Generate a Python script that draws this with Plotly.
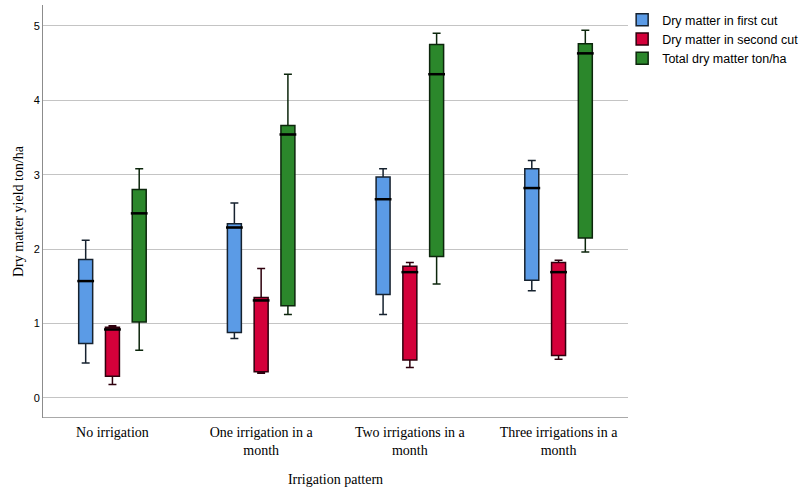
import plotly.graph_objects as go

categories = ["No irrigation", "One irrigation in a<br>month", "Two irrigations in a<br>month", "Three irrigations in a<br>month"]
series_names = ["Dry matter in first cut", "Dry matter in second cut", "Total dry matter ton/ha"]

first_lower = [0.47, 0.80, 1.12, 1.44]
first_q1 = [0.73, 0.88, 1.39, 1.58]
first_median = [1.57, 2.29, 2.67, 2.82]
first_q3 = [1.86, 2.34, 2.97, 3.08]
first_upper = [2.12, 2.62, 3.08, 3.19]

second_lower = [0.18, 0.33, 0.41, 0.52]
second_q1 = [0.29, 0.35, 0.51, 0.57]
second_median = [0.92, 1.31, 1.69, 1.69]
second_q3 = [0.95, 1.35, 1.77, 1.82]
second_upper = [0.97, 1.74, 1.82, 1.85]

total_lower = [0.64, 1.12, 1.53, 1.96]
total_q1 = [1.02, 1.24, 1.90, 2.15]
total_median = [2.48, 3.54, 4.35, 4.63]
total_q3 = [2.80, 3.66, 4.75, 4.76]
total_upper = [3.08, 4.35, 4.90, 4.94]

fills = ["#5b9be6", "#d4003a", "#2b872b"]
edges = ["#16222f", "#2e000d", "#0c260c"]
offsets = [-0.18, 0.0, 0.18]
box_w = 0.094

stats = [
    (first_lower, first_q1, first_median, first_q3, first_upper),
    (second_lower, second_q1, second_median, second_q3, second_upper),
    (total_lower, total_q1, total_median, total_q3, total_upper),
]

fig = go.Figure()
for i, (lo, q1, med, q3, hi) in enumerate(stats):
    xs = [k + offsets[i] for k in range(len(categories))]
    fig.add_trace(go.Box(
        x=xs, lowerfence=lo, q1=q1, median=med, q3=q3, upperfence=hi,
        name=series_names[i], width=box_w, whiskerwidth=0.57,
        fillcolor=fills[i], line=dict(color=edges[i], width=1.5),
        boxpoints=False, showlegend=True,
    ))
for i, (lo, q1, med, q3, hi) in enumerate(stats):
    xs = [k + offsets[i] for k in range(len(categories))]
    fig.add_trace(go.Scatter(
        x=xs, y=med, mode="markers", showlegend=False, hoverinfo="skip",
        marker=dict(symbol="line-ew", size=12, line=dict(color="black", width=2.5)),
    ))

fig.update_layout(
    width=808, height=501,
    margin=dict(l=43, r=171, t=5, b=83),
    plot_bgcolor="white", paper_bgcolor="white",
    boxmode="overlay",
    legend=dict(x=0.99, y=1.0, xanchor="left", yanchor="top",
                font=dict(family="Liberation Sans", size=12.5, color="black"),
                tracegroupgap=0, itemwidth=30, bgcolor="rgba(0,0,0,0)"),
    xaxis=dict(
        range=[-0.467, 3.467], tickmode="array", tickvals=list(range(len(categories))),
        ticktext=categories, showgrid=False, zeroline=False,
        showline=False, ticks="", ticklabelstandoff=4,
        tickfont=dict(family="Liberation Serif", size=14, color="black"),
        title=dict(text="Irrigation pattern", font=dict(family="Liberation Serif", size=14, color="black"), standoff=16),
    ),
    yaxis=dict(
        range=[-0.27, 5.28], tickvals=[0, 1, 2, 3, 4, 5], showgrid=True,
        gridcolor="#c4c4c4", gridwidth=1, zeroline=False,
        showline=True, linecolor="#8c8c8c", linewidth=1, ticks="",
        tickfont=dict(family="Liberation Sans", size=11, color="black"),
        title=dict(text="Dry matter yield ton/ha", font=dict(family="Liberation Serif", size=14, color="black"), standoff=6),
    ),
    shapes=[dict(type="line", xref="paper", yref="y", x0=0, x1=1, y0=-0.27, y1=-0.27,
                 line=dict(color="#8c8c8c", width=1.5))],
)

fig.write_html("out.html", config={"displayModeBar": False},
               post_script="document.body.style.margin='0px';")
